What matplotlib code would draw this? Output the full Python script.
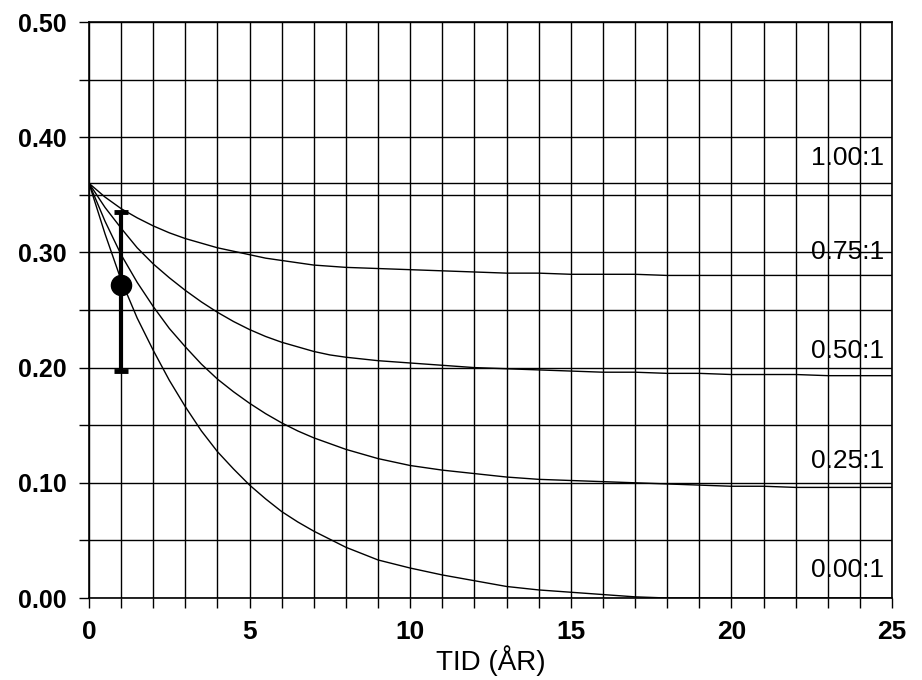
import matplotlib
matplotlib.use("Agg")
import matplotlib.pyplot as plt
from matplotlib.ticker import MultipleLocator

plt.rcParams['font.family'] = ['Liberation Sans', 'DejaVu Sans']

years = [0, 0.5, 1, 1.5, 2, 2.5, 3, 3.5, 4, 4.5, 5, 5.5, 6, 6.5, 7, 7.5, 8,
         9, 10, 11, 12, 13, 14, 15, 16, 17, 18, 19, 20, 21, 22, 23, 24, 25]
ratio_labels = ["1.00:1", "0.75:1", "0.50:1", "0.25:1", "0.00:1"]

curve_100 = [0.36] * len(years)
curve_075 = [0.360, 0.348, 0.338, 0.330, 0.323, 0.317, 0.312, 0.308, 0.304, 0.301,
             0.298, 0.295, 0.293, 0.291, 0.289, 0.288, 0.287,
             0.286, 0.285, 0.284, 0.283, 0.282, 0.282, 0.281, 0.281, 0.281, 0.280,
             0.280, 0.280, 0.280, 0.280, 0.280, 0.280, 0.280]
curve_050 = [0.360, 0.339, 0.321, 0.304, 0.290, 0.278, 0.267, 0.257, 0.248, 0.240,
             0.233, 0.227, 0.222, 0.218, 0.214, 0.211, 0.209,
             0.206, 0.204, 0.202, 0.200, 0.199, 0.198, 0.197, 0.196, 0.196, 0.195,
             0.195, 0.194, 0.194, 0.194, 0.193, 0.193, 0.193]
curve_025 = [0.360, 0.327, 0.298, 0.274, 0.253, 0.234, 0.218, 0.203, 0.190, 0.179,
             0.169, 0.160, 0.152, 0.145, 0.139, 0.134, 0.129,
             0.121, 0.115, 0.111, 0.108, 0.105, 0.103, 0.102, 0.101, 0.100, 0.099,
             0.098, 0.097, 0.097, 0.096, 0.096, 0.096, 0.096]
curve_000 = [0.360, 0.316, 0.276, 0.243, 0.215, 0.189, 0.166, 0.145, 0.127, 0.112,
             0.098, 0.086, 0.075, 0.066, 0.058, 0.051, 0.044,
             0.033, 0.026, 0.020, 0.015, 0.010, 0.007, 0.005, 0.003, 0.001, 0.000,
             0.000, 0.000, 0.000, 0.000, 0.000, 0.000, 0.000]
curves = [curve_100, curve_075, curve_050, curve_025, curve_000]
label_y = [0.382, 0.300, 0.214, 0.119, 0.024]

obs_x = [1.0]
obs_y = [0.272]
obs_lo = [0.197]
obs_hi = [0.335]

x_ticks = [0, 5, 10, 15, 20, 25]
y_ticks = [0.0, 0.1, 0.2, 0.3, 0.4, 0.5]
x_label = "TID (ÅR)"

fig = plt.figure(figsize=(9.22, 6.80), dpi=100)
ax = fig.add_axes([89/922, 1-598/680, (892-89)/922, (598-22)/680])

for c in curves:
    ax.plot(years, c, color='black', lw=1.0, zorder=3)

for lab, ly in zip(ratio_labels, label_y):
    ax.text(24.75, ly, lab, ha='right', va='center', fontsize=19, zorder=2)

yerr = [[obs_y[0] - obs_lo[0]], [obs_hi[0] - obs_y[0]]]
ax.errorbar(obs_x, obs_y, yerr=yerr, fmt='o', color='black', ms=14.5,
            elinewidth=3, capsize=5, capthick=3.5, zorder=5)

ax.set_xlim(0, 25)
ax.set_ylim(0, 0.5)
ax.set_xticks(x_ticks)
ax.set_yticks(y_ticks)
ax.set_yticklabels([f"{v:.2f}" for v in y_ticks])
ax.xaxis.set_minor_locator(MultipleLocator(1))
ax.yaxis.set_minor_locator(MultipleLocator(0.05))
ax.grid(True, which='both', color='black', lw=1.0, zorder=1)
ax.set_axisbelow(True)

for lbl in ax.get_xticklabels():
    lbl.set_fontsize(19)
    lbl.set_fontweight('bold')
for lbl in ax.get_yticklabels():
    lbl.set_fontsize(18)
    lbl.set_fontweight('bold')
ax.tick_params(axis='both', which='both', direction='out', length=7, width=1, color='black')
ax.tick_params(axis='x', which='major', pad=9)
ax.tick_params(axis='y', which='major', pad=9)

for s in ax.spines.values():
    s.set_color('black')
    s.set_linewidth(1.2)

ax.set_xlabel(x_label, fontsize=20, labelpad=1)

fig.savefig("out.png", dpi=100)
